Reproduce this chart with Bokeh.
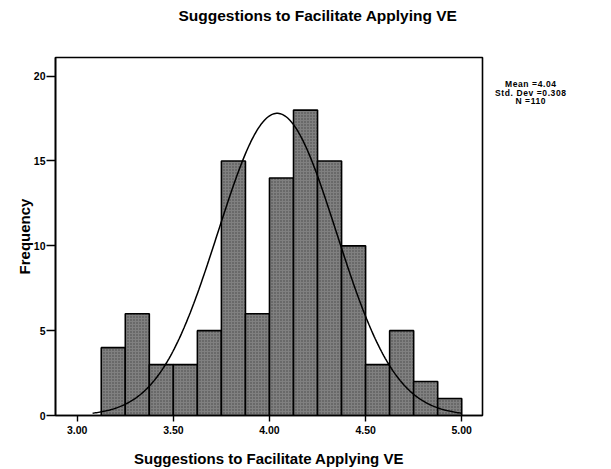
import numpy as np
from bokeh.plotting import figure
from bokeh.models import Range1d, FixedTicker, NumeralTickFormatter, Title, Div
from bokeh.layouts import row
from bokeh.embed import file_html
from bokeh.resources import INLINE

# ---- data ----
bin_start = 3.125
bin_width = 0.125
counts = [4, 6, 3, 3, 5, 15, 6, 14, 18, 15, 10, 3, 5, 2, 1]
stat_mean = 4.04
stat_sd = 0.308
stat_n = 110
x_ticks = [3.0, 3.5, 4.0, 4.5, 5.0]
y_ticks = [0, 5, 10, 15, 20]
title_text = "Suggestions to Facilitate Applying VE"
x_label = "Suggestions to Facilitate Applying VE"
y_label = "Frequency"
stat_lines = ["Mean =4.04", "Std. Dev =0.308", "N =110"]

left_edges = [bin_start + i * bin_width for i in range(len(counts))]
right_edges = [l + bin_width for l in left_edges]

FONT = "Liberation Sans"

p = figure(width=484, height=469, output_backend="svg", toolbar_location=None,
           title=None,
           x_range=Range1d(2.887, 5.108), y_range=Range1d(0, 21.1),
           min_border_left=55, min_border_right=2, min_border_top=57,
           min_border_bottom=52)
p.background_fill_color = "white"
p.border_fill_color = "white"
p.outline_line_color = "black"
p.outline_line_width = 1.6
p.xgrid.visible = False
p.ygrid.visible = False

# spacer between frame and title, then the title itself (stacked outward)
p.add_layout(Title(text=" ", text_font_size="1px", standoff=31), "above")
p.add_layout(Title(text=title_text, align="left", offset=123, standoff=0,
                   text_font=FONT, text_font_style="bold",
                   text_font_size="15.5px", text_color="black"), "above")

p.quad(left=left_edges, right=right_edges, bottom=0, top=counts,
       fill_color="#808080", line_color="black", line_width=1.6,
       hatch_pattern="dot", hatch_color="#1e1e1e", hatch_scale=3,
       hatch_alpha=0.6)

xs = np.linspace(3.08, 5.0, 300)
ys = stat_n * bin_width / (stat_sd * np.sqrt(2 * np.pi)) * np.exp(-((xs - stat_mean) ** 2) / (2 * stat_sd ** 2))
p.line(xs, ys, line_color="black", line_width=1.5)

for ax in (p.xaxis[0], p.yaxis[0]):
    ax.axis_line_color = "black"
    ax.axis_line_width = 1.6
    ax.major_tick_line_color = "black"
    ax.major_tick_line_width = 1.4
    ax.minor_tick_line_color = None
    ax.major_tick_in = 0
    ax.major_label_text_font = FONT
    ax.major_label_text_font_style = "bold"
    ax.major_label_text_font_size = "10.5px"
    ax.major_label_text_color = "black"
    ax.axis_label_text_font = FONT
    ax.axis_label_text_font_style = "bold"
    ax.axis_label_text_color = "black"

p.xaxis.ticker = FixedTicker(ticks=x_ticks)
p.xaxis.formatter = NumeralTickFormatter(format="0.00")
p.xaxis.major_tick_out = 6
p.xaxis.major_label_standoff = 4
p.xaxis.axis_label = x_label
p.xaxis.axis_label_text_font_size = "15px"
p.xaxis.axis_label_standoff = 13

p.yaxis.ticker = FixedTicker(ticks=y_ticks)
p.yaxis.major_tick_out = 9
p.yaxis.major_label_standoff = 1
p.yaxis.axis_label = y_label
p.yaxis.axis_label_text_font_size = "15px"
p.yaxis.axis_label_standoff = -2

# statistics text to the right of the chart
stats_html = ("<div style=\"position:relative; left:11px; "
              "padding-top:80px; text-align:center; "
              "font-family:'Liberation Sans'; font-weight:bold; font-size:8.5px; "
              "letter-spacing:0.6px; line-height:8.5px; color:black; "
              "white-space:nowrap;\">"
              + "<br>".join(stat_lines) + "</div>")
stats = Div(text=stats_html, width=127, height=469, margin=(0, 0, 0, 0))

layout = row(p, stats, spacing=0)
open("out.html", "w").write(file_html(layout, INLINE))
